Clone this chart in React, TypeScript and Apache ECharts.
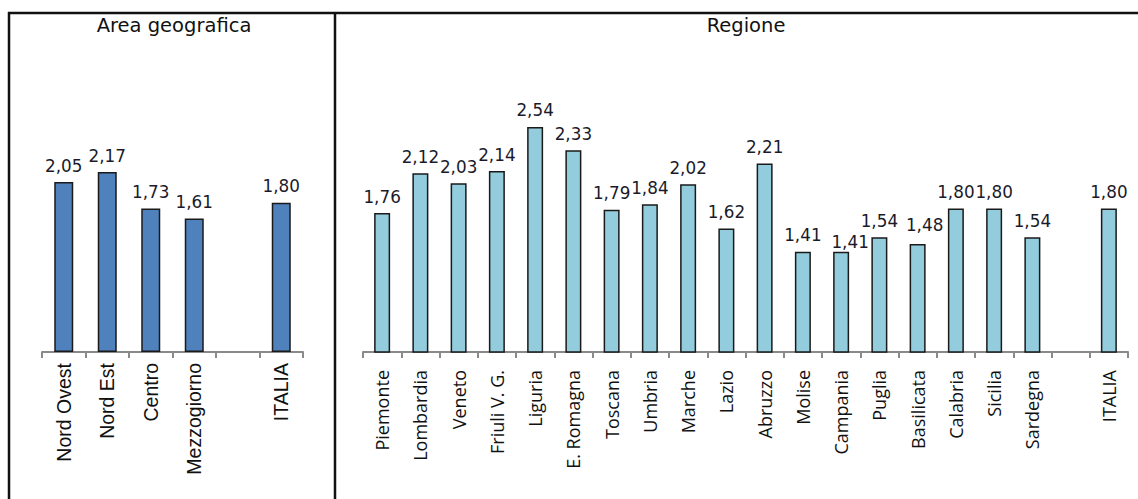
import React, { useEffect, useRef } from "react";
import * as echarts from "echarts";

const areaCategories = ["Nord Ovest", "Nord Est", "Centro", "Mezzogiorno", "", "ITALIA"];
const areaValues: (number | null)[] = [2.05, 2.17, 1.73, 1.61, null, 1.8];

const regionCategories = [
  "Piemonte", "Lombardia", "Veneto", "Friuli V. G.", "Liguria", "E. Romagna", "Toscana",
  "Umbria", "Marche", "Lazio", "Abruzzo", "Molise", "Campania", "Puglia", "Basilicata",
  "Calabria", "Sicilia", "Sardegna", "", "ITALIA",
];
const regionValues: (number | null)[] = [
  1.76, 2.12, 2.03, 2.14, 2.54, 2.33, 1.79, 1.84, 2.02, 1.62, 2.21, 1.41, 1.41, 1.54, 1.48,
  1.8, 1.8, 1.54, null, 1.8,
];
// label nudges (as moved by hand in the original)
const regionLabelNudges: Record<string, [number, number]> = {
  Campania: [9, 7],
  Basilicata: [7, -2],
};

const areaTitle = "Area geografica";
const regionTitle = "Regione";

const fmt = (v: number) => v.toFixed(2).replace(".", ",");

export default function App() {
  const ref = useRef<HTMLDivElement>(null);
  useEffect(() => {
    if (!ref.current) return;
    const chart = echarts.init(ref.current, null, { renderer: "svg" });
    const axisGray = "#8a8a8a";
    const valueLabel = {
      show: true,
      position: "top" as const,
      distance: 8,
      fontFamily: "DejaVu Sans",
      fontSize: 16.8,
      color: "#1a1a2a",
      formatter: (p: any) => fmt(p.value),
    };
    chart.setOption({
      animation: false,
      backgroundColor: "#ffffff",
      grid: [
        { left: 42, width: 261, top: 103.3, bottom: 147 },
        { left: 363, width: 765, top: 76.25, bottom: 147 },
      ],
      xAxis: [
        {
          type: "category",
          gridIndex: 0,
          data: areaCategories,
          axisLine: { lineStyle: { color: axisGray, width: 2 } },
          axisTick: { show: true, length: 6, lineStyle: { color: axisGray, width: 2 } },
          axisLabel: {
            rotate: 90,
            margin: 11,
            interval: 0,
            fontFamily: "Liberation Sans",
            fontSize: 19.5,
            color: "#111",
          },
        },
        {
          type: "category",
          gridIndex: 1,
          data: regionCategories,
          axisLine: { lineStyle: { color: axisGray, width: 2 } },
          axisTick: { show: true, length: 6, lineStyle: { color: axisGray, width: 2 } },
          axisLabel: {
            rotate: 90,
            margin: 18,
            interval: 0,
            fontFamily: "Open Sans",
            fontSize: 18,
            color: "#111",
          },
        },
      ],
      yAxis: [
        { type: "value", gridIndex: 0, min: 0, max: 3, show: false, splitLine: { show: false } },
        { type: "value", gridIndex: 1, min: 0.5, max: 3, show: false, splitLine: { show: false } },
      ],
      series: [
        {
          type: "bar",
          xAxisIndex: 0,
          yAxisIndex: 0,
          barWidth: 19,
          data: areaValues.map((v) => (v == null ? "-" : v)),
          itemStyle: { color: "#4f81bd", borderColor: "#1a1a1a", borderWidth: 1.5 },
          label: valueLabel,
        },
        {
          type: "bar",
          xAxisIndex: 1,
          yAxisIndex: 1,
          barWidth: 16,
          data: regionValues.map((v, i) => {
            if (v == null) return "-";
            const nudge = regionLabelNudges[regionCategories[i]];
            return nudge ? { value: v, label: { offset: nudge } } : v;
          }),
          itemStyle: { color: "#93cddd", borderColor: "#1a1a1a", borderWidth: 1.5 },
          label: valueLabel,
        },
      ],
      graphic: [
        {
          type: "line",
          shape: { x1: 8, y1: 13, x2: 1138, y2: 13 },
          style: { stroke: "#111", lineWidth: 2.5 },
        },
        {
          type: "line",
          shape: { x1: 9, y1: 12, x2: 9, y2: 499 },
          style: { stroke: "#111", lineWidth: 2.5 },
        },
        {
          type: "line",
          shape: { x1: 335, y1: 12, x2: 335, y2: 499 },
          style: { stroke: "#111", lineWidth: 2.5 },
        },
        {
          type: "text",
          x: 174,
          y: 25,
          style: {
            text: areaTitle,
            fontFamily: "DejaVu Sans",
            fontSize: 19.5,
            fill: "#111",
            textAlign: "center",
            textVerticalAlign: "middle",
          },
        },
        {
          type: "text",
          x: 746,
          y: 25,
          style: {
            text: regionTitle,
            fontFamily: "DejaVu Sans",
            fontSize: 19.5,
            fill: "#111",
            textAlign: "center",
            textVerticalAlign: "middle",
          },
        },
      ],
    });
    return () => chart.dispose();
  }, []);
  return (
    <div
      ref={ref}
      style={{ position: "fixed", left: 0, top: 0, width: 1138, height: 499 }}
    />
  );
}
